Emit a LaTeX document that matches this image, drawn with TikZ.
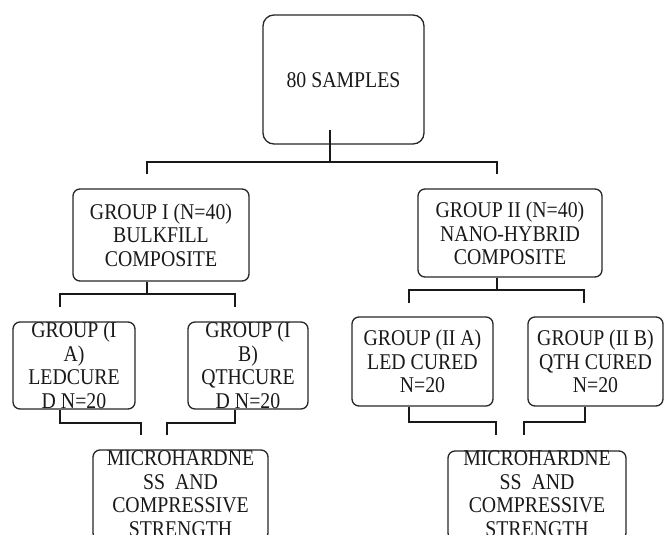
\documentclass[tikz,border=0pt]{standalone}
\usepackage{fontspec}
\setmainfont{Liberation Serif}[FakeStretch=0.88]
\begin{document}
\begin{tikzpicture}[x=1pt,y=-1pt,
  box/.style={draw=black!85,line width=1.3pt,rounded corners=7pt,minimum width=#1,inner sep=0pt},
  txt/.style={align=center,inner sep=0pt,font=\fontsize{22.5}{23.6}\selectfont,text=black!90},
  conn/.style={draw=black!90,line width=1.2pt}]
\useasboundingbox (0,0) rectangle (664,535);
\clip (0,0) rectangle (664,535);
% boxes
\node[box=161pt,minimum height=129pt,rounded corners=11pt] (top) at (343.5,79.5) {};
\node[txt] (topt) at (343.5,80) {80 SAMPLES};
\node[box=176pt,minimum height=92pt] (g1) at (161,235) {};
\node[txt] (g1t) at (161,235) {GROUP I (N=40)\\BULKFILL\\COMPOSITE};
\node[box=184pt,minimum height=88pt] (g2) at (510,233) {};
\node[txt] (g2t) at (510,233.5) {GROUP II (N=40)\\NANO-HYBRID\\COMPOSITE};
\node[box=122pt,minimum height=87pt] (ia) at (74,365.5) {};
\node[txt] (iat) at (74,365.5) {GROUP (I\\A)\\LEDCURE\\D N=20};
\node[box=120pt,minimum height=87pt] (ib) at (248,365.5) {};
\node[txt] (ibt) at (248,365.5) {GROUP (I\\B)\\QTHCURE\\D N=20};
\node[box=141pt,minimum height=89pt] (iia) at (422.5,361.5) {};
\node[txt] (iiat) at (422.5,361.5) {GROUP (II A)\\LED CURED\\N=20};
\node[box=135pt,minimum height=89pt] (iib) at (595.5,361.5) {};
\node[txt] (iibt) at (595.5,361.5) {GROUP (II B)\\QTH CURED\\N=20};
\node[box=175pt,minimum height=90pt] (m1) at (180.5,495) {};
\node[txt] (m1t) at (180.5,493.5) {MICROHARDNE\\SS\ \ AND\\COMPRESSIVE\\STRENGTH};
\node[box=178pt,minimum height=89pt] (m2) at (537,495.5) {};
\node[txt] (m2t) at (537,493.5) {MICROHARDNE\\SS\ \ AND\\COMPRESSIVE\\STRENGTH};
% connectors
\coordinate (t0) at (330,130);
\coordinate (tj) at (330,162);
\coordinate (tl) at (147,162);
\coordinate (tr) at (497,162);
\coordinate (tle) at (147,174);
\coordinate (tre) at (497,174);
\draw[conn] (t0) -- (tj);
\draw[conn] (tle) -- (tl) -- (tr) -- (tre);
% group I
\coordinate (g1j) at (147,294);
\coordinate (g1l) at (60,294);
\coordinate (g1r) at (235,294);
\coordinate (g1le) at (60,307);
\coordinate (g1re) at (235,307);
\draw[conn] (g1.south -| g1j) -- (g1j);
\draw[conn] (g1le) -- (g1l) -- (g1r) -- (g1re);
% group II
\coordinate (g2j) at (497,290);
\coordinate (g2l) at (409,290);
\coordinate (g2r) at (584,290);
\coordinate (g2le) at (409,303);
\coordinate (g2re) at (584,303);
\draw[conn] (g2.south -| g2j) -- (g2j);
\draw[conn] (g2le) -- (g2l) -- (g2r) -- (g2re);
% to microhardness left
\coordinate (a1) at (60,423);
\coordinate (a2) at (141,423);
\coordinate (a3) at (141,435);
\draw[conn] (ia.south -| a1) -- (a1) -- (a2) -- (a3);
\coordinate (b1) at (235,423);
\coordinate (b2) at (167,423);
\coordinate (b3) at (167,435);
\draw[conn] (ib.south -| b1) -- (b1) -- (b2) -- (b3);
% to microhardness right
\coordinate (c1) at (409,422);
\coordinate (c2) at (496,422);
\coordinate (c3) at (496,435);
\draw[conn] (iia.south -| c1) -- (c1) -- (c2) -- (c3);
\coordinate (d1) at (585,422);
\coordinate (d2) at (524,422);
\coordinate (d3) at (524,435);
\draw[conn] (iib.south -| d1) -- (d1) -- (d2) -- (d3);
\end{tikzpicture}
\end{document}
